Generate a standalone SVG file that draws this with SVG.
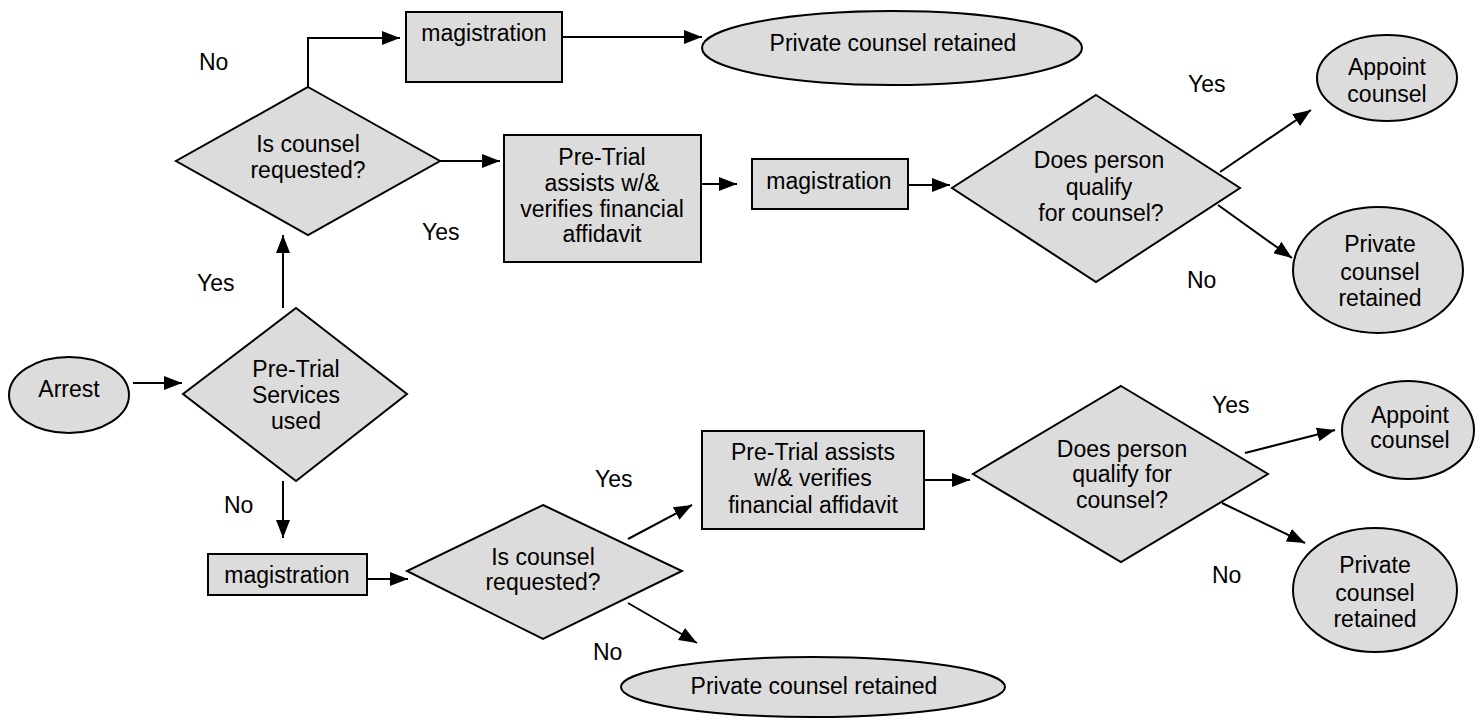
<svg xmlns="http://www.w3.org/2000/svg" width="1478" height="722" viewBox="0 0 1478 722">
<defs>
<style>
.n{fill:#dcdcdc;stroke:#000;stroke-width:2}
.t{font-family:"Liberation Sans",Arial,sans-serif;font-size:23px;fill:#000;text-anchor:middle}
.l{font-family:"Liberation Sans",Arial,sans-serif;font-size:23px;fill:#000}
.c{fill:none;stroke:#000;stroke-width:2}
</style>
<marker id="ah" markerUnits="userSpaceOnUse" markerWidth="18" markerHeight="14" refX="18" refY="7" orient="auto">
<path d="M0,0 L18,7 L0,14 z" fill="#000"/>
</marker>
</defs>
<rect width="1478" height="722" fill="#fff"/>

<g id="connectors">
<polyline class="c" points="308,87 308,38 400,38" marker-end="url(#ah)"/>
<line class="c" x1="553" y1="37" x2="702" y2="37" marker-end="url(#ah)"/>
<line class="c" x1="440" y1="161" x2="500" y2="161" marker-end="url(#ah)"/>
<line class="c" x1="701" y1="184" x2="737" y2="184" marker-end="url(#ah)"/>
<line class="c" x1="893" y1="185" x2="950" y2="185" marker-end="url(#ah)"/>
<line class="c" x1="1220" y1="172" x2="1311" y2="110" marker-end="url(#ah)"/>
<line class="c" x1="1218" y1="205" x2="1292" y2="258" marker-end="url(#ah)"/>
<line class="c" x1="283" y1="308" x2="283" y2="235" marker-end="url(#ah)"/>
<line class="c" x1="133" y1="383" x2="182" y2="383" marker-end="url(#ah)"/>
<line class="c" x1="283" y1="481" x2="283" y2="538" marker-end="url(#ah)"/>
<line class="c" x1="353" y1="579" x2="408" y2="579" marker-end="url(#ah)"/>
<line class="c" x1="628" y1="539" x2="692" y2="505" marker-end="url(#ah)"/>
<line class="c" x1="628" y1="603" x2="697" y2="643" marker-end="url(#ah)"/>
<line class="c" x1="924" y1="480" x2="970" y2="480" marker-end="url(#ah)"/>
<line class="c" x1="1245" y1="453" x2="1335" y2="430" marker-end="url(#ah)"/>
<line class="c" x1="1222" y1="503" x2="1305" y2="543" marker-end="url(#ah)"/>
</g>

<g id="labels">
<text class="l" x="199" y="70">No</text>
<text class="l" x="422" y="240">Yes</text>
<text class="l" x="1188" y="92">Yes</text>
<text class="l" x="1187" y="288">No</text>
<text class="l" x="197" y="291">Yes</text>
<text class="l" x="224" y="513">No</text>
<text class="l" x="595" y="487">Yes</text>
<text class="l" x="593" y="660">No</text>
<text class="l" x="1212" y="413">Yes</text>
<text class="l" x="1212" y="583">No</text>
</g>

<g id="arrest">
<ellipse class="n" cx="69" cy="395" rx="60" ry="38"/>
<text class="t" x="69" y="397">Arrest</text>
</g>

<g id="pretrial-used">
<polygon class="n" points="296,308 407,394 296,481 183,394"/>
<text class="t" x="296" y="377">Pre-Trial</text>
<text class="t" x="296" y="403">Services</text>
<text class="t" x="296" y="429">used</text>
</g>

<g id="counsel-requested-top">
<polygon class="n" points="308,87 440,161 308,235 176,161"/>
<text class="t" x="308" y="152">Is counsel</text>
<text class="t" x="308" y="178">requested?</text>
</g>

<g id="magistration-top">
<rect class="n" x="406" y="12" width="156" height="70"/>
<text class="t" x="484" y="41">magistration</text>
</g>

<g id="private-top">
<ellipse class="n" cx="892" cy="48" rx="190" ry="37"/>
<text class="t" x="893" y="51">Private counsel retained</text>
</g>

<g id="pretrial-assists-top">
<rect class="n" x="504" y="135" width="197" height="127"/>
<text class="t" x="602" y="165">Pre-Trial</text>
<text class="t" x="602" y="191">assists w/&amp;</text>
<text class="t" x="602" y="217">verifies financial</text>
<text class="t" x="602" y="242">affidavit</text>
</g>

<g id="magistration-mid">
<rect class="n" x="752" y="159" width="156" height="50"/>
<text class="t" x="829" y="189">magistration</text>
</g>

<g id="qualify-top">
<polygon class="n" points="1096,95 1240,188 1096,282 952,188"/>
<text class="t" x="1099" y="168">Does person</text>
<text class="t" x="1099" y="195">qualify</text>
<text class="t" x="1101" y="221">for counsel?</text>
</g>

<g id="appoint-top">
<ellipse class="n" cx="1387" cy="78" rx="70" ry="43"/>
<text class="t" x="1387" y="75">Appoint</text>
<text class="t" x="1387" y="102">counsel</text>
</g>

<g id="private-right-top">
<ellipse class="n" cx="1378" cy="270" rx="85" ry="63"/>
<text class="t" x="1380" y="252">Private</text>
<text class="t" x="1380" y="280">counsel</text>
<text class="t" x="1380" y="306">retained</text>
</g>

<g id="magistration-bottom">
<rect class="n" x="208" y="554" width="159" height="41"/>
<text class="t" x="287" y="583">magistration</text>
</g>

<g id="counsel-requested-bottom">
<polygon class="n" points="543,505 682,571 543,639 407,571"/>
<text class="t" x="543" y="565">Is counsel</text>
<text class="t" x="543" y="590">requested?</text>
</g>

<g id="private-bottom">
<ellipse class="n" cx="813" cy="687" rx="192" ry="30"/>
<text class="t" x="814" y="694">Private counsel retained</text>
</g>

<g id="pretrial-assists-bottom">
<rect class="n" x="702" y="431" width="222" height="98"/>
<text class="t" x="813" y="460">Pre-Trial assists</text>
<text class="t" x="813" y="486">w/&amp; verifies</text>
<text class="t" x="813" y="513">financial affidavit</text>
</g>

<g id="qualify-bottom">
<polygon class="n" points="1121,386 1268,474 1121,562 973,474"/>
<text class="t" x="1122" y="457">Does person</text>
<text class="t" x="1122" y="482">qualify for</text>
<text class="t" x="1122" y="508">counsel?</text>
</g>

<g id="appoint-bottom">
<ellipse class="n" cx="1408" cy="430" rx="66" ry="49"/>
<text class="t" x="1410" y="423">Appoint</text>
<text class="t" x="1410" y="448">counsel</text>
</g>

<g id="private-right-bottom">
<ellipse class="n" cx="1375" cy="590" rx="82" ry="62"/>
<text class="t" x="1375" y="573">Private</text>
<text class="t" x="1375" y="601">counsel</text>
<text class="t" x="1375" y="627">retained</text>
</g>
</svg>
